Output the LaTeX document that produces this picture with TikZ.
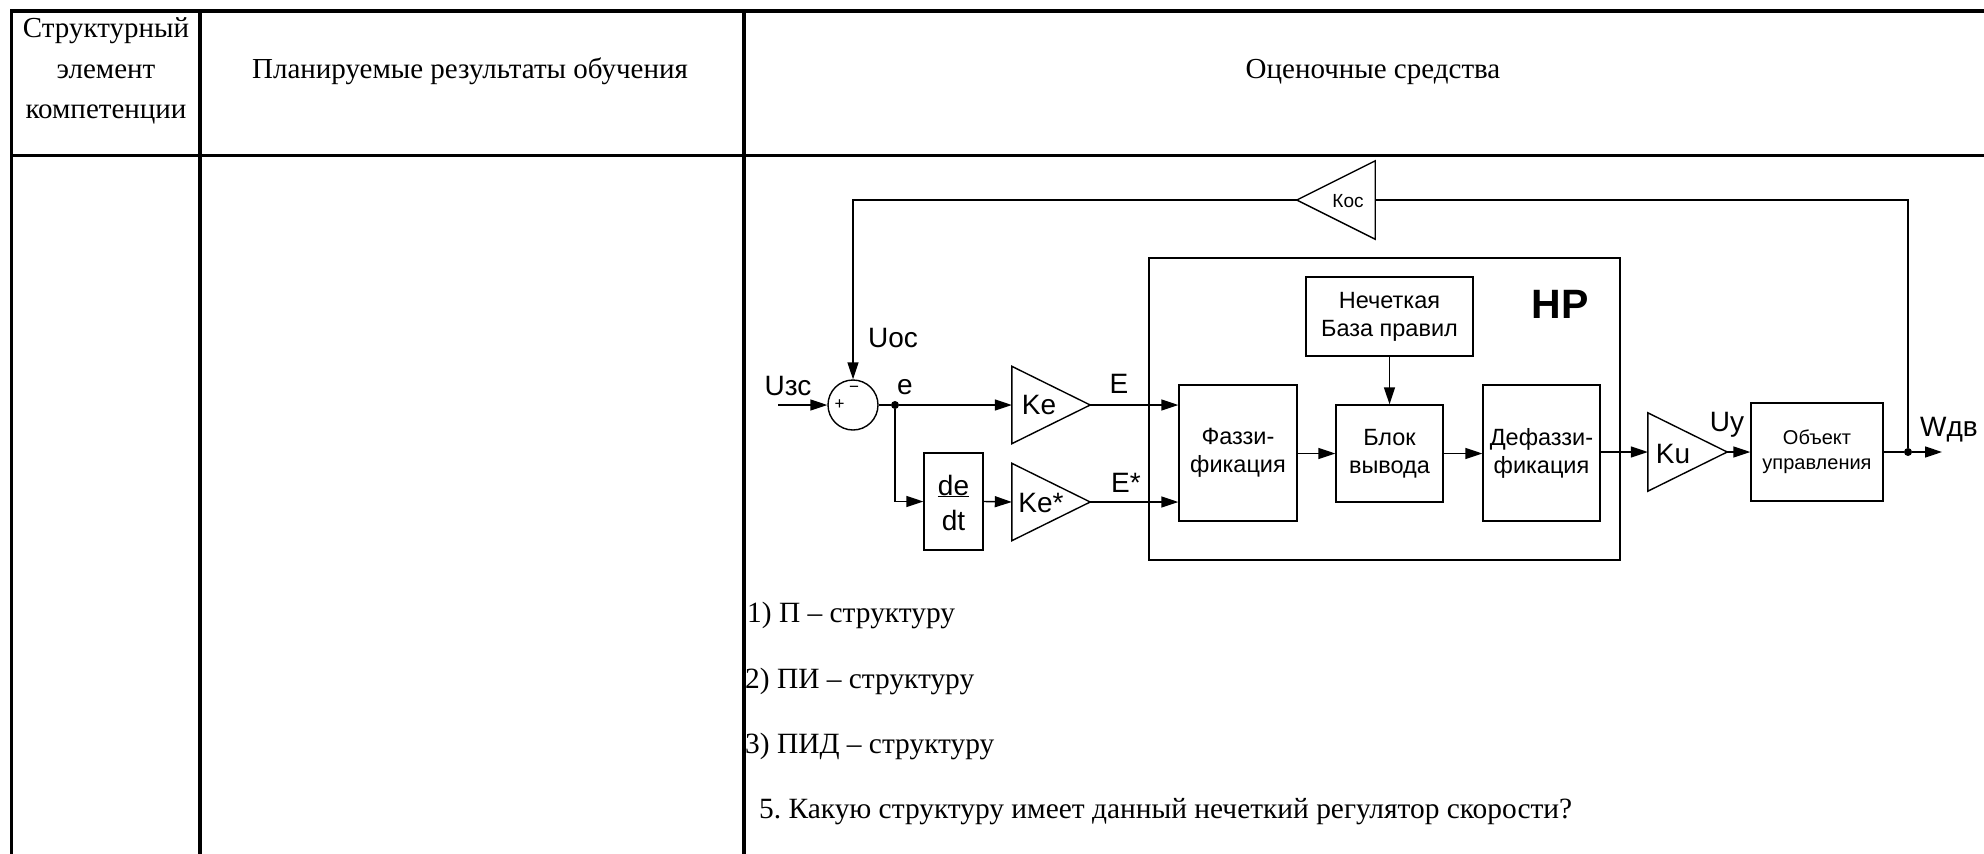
\documentclass[tikz,border=0pt]{standalone}
\usepackage{fontspec}
\setmainfont{Liberation Serif}
\newfontfamily\diag{Liberation Sans}
\usetikzlibrary{arrows.meta,calc}
\frenchspacing

\begin{document}
\begin{tikzpicture}[x=1pt,y=-1pt,
  grid/.style={line width=3.3pt,line cap=rect},
  wire/.style={line width=1.4pt},
  sig/.style={wire,-{Triangle[length=17pt,width=11pt]}},
  cell/.style={inner sep=0pt,font=\fontsize{29}{40}\selectfont},
  qtext/.style={inner sep=0pt,anchor=base west,font=\fontsize{29.4}{40}\selectfont},
  blk/.style={draw,line width=1.4pt,inner sep=0pt,align=center,
    font=\diag\fontsize{23.5}{28}\selectfont},
  gain/.style={inner sep=0pt},
  lbl/.style={inner sep=0pt,anchor=base,font=\diag\fontsize{28}{30}\selectfont},
  dot/.style={circle,fill,inner sep=0pt,minimum size=8pt}
]
\useasboundingbox (0,0) rectangle (1984,854);

% table rules
\draw[grid] (11.5,11) -- (1984,11);
\draw[grid] (11.5,155.5) -- (1984,155.5);
\draw[grid] (11.5,11) -- (11.5,860);
\draw[grid] (200,11) -- (200,860);
\draw[grid] (744,11) -- (744,860);

% table header
\node[cell,anchor=base] (h1a) at (106,37) {Структурный};
\node[cell,anchor=base] (h1b) at (106,78) {элемент};
\node[cell,anchor=base] (h1c) at (106,118) {компетенции};
\node[cell,anchor=base] (h2) at (470,78) {Планируемые результаты обучения};
\node[cell,anchor=base] (h3) at (1373,78) {Оценочные средства};

% regulator frame and blocks
\node[blk,minimum width=471pt,minimum height=302pt] (hp) at (1384.5,409) {};
\node[inner sep=0pt,anchor=base,font=\diag\bfseries\fontsize{41}{44}\selectfont] (hpl) at (1560,318) {НР};
\node[blk,minimum width=167pt,minimum height=79pt] (rules) at (1389.5,316.5) {Нечеткая\\База правил};
\node[blk,minimum width=118pt,minimum height=136pt] (fuz) at (1238,453) {Фаззи-\\фикация};
\node[blk,minimum width=107pt,minimum height=97pt] (inf) at (1389.5,453.5) {Блок\\вывода};
\node[blk,minimum width=117pt,minimum height=136pt] (defuz) at (1541.5,453) {Дефаззи-\\фикация};
\node[blk,minimum width=132pt,minimum height=98pt,font=\diag\fontsize{20}{25}\selectfont] (obj) at (1817,452) {Объект\\управления};
\node[blk,minimum width=59pt,minimum height=97pt] (der) at (953.5,501.5) {};
\node[lbl] (de) at (953.5,495) {\underline{de}};
\node[lbl] (dt) at (953.5,530) {dt};

% summing junction
\node[draw,circle,line width=1.4pt,minimum size=50pt,inner sep=0pt] (sum) at (853,405) {};
\node[inner sep=0pt,font=\diag\fontsize{17}{17}\selectfont] (plus) at (839.5,405) {+};
\node[inner sep=0pt,font=\diag\fontsize{17}{17}\selectfont] (minus) at (854,389) {−};

% amplifiers (triangles drawn on invisible frames)
\node[gain,minimum width=78pt,minimum height=77pt] (ke) at (1051,405) {};
\node[gain,minimum width=78pt,minimum height=77pt] (kes) at (1051,502) {};
\node[gain,minimum width=79pt,minimum height=78pt] (ku) at (1687.5,452) {};
\node[gain,minimum width=78pt,minimum height=78pt] (kos) at (1336,200) {};
\draw[wire] (ke.north west) -- (ke.east) -- (ke.south west) -- cycle;
\draw[wire] (kes.north west) -- (kes.east) -- (kes.south west) -- cycle;
\draw[wire] (ku.north west) -- (ku.east) -- (ku.south west) -- cycle;
\draw[wire] (kos.north east) -- (kos.west) -- (kos.south east) -- cycle;
\node[lbl] (kel) at (1039,414) {Ke};
\node[lbl] (kesl) at (1041,512) {Ke*};
\node[lbl] (kul) at (1673,463) {Ku};
\node[lbl,font=\diag\fontsize{19}{20}\selectfont] (kosl) at (1348,207) {Кос};

% signal labels
\node[lbl] (uzs) at (788,395) {Uзс};
\node[lbl] (uos) at (893,347) {Uос};
\node[lbl] (el) at (905,394) {e};
\node[lbl] (bigE) at (1119,393) {E};
\node[lbl] (bigEs) at (1126,492) {E*};
\node[lbl] (uy) at (1727,431) {Uy};
\node[lbl] (wdv) at (1949,436) {Wдв};

% junction points
\node[dot] (je) at (895,405) {};
\node[dot] (jw) at (1908,452) {};
\coordinate (in) at (778,405);
\coordinate (out) at (1942,452);

% signal flow
\draw[sig] (in) -- (sum.west);
\draw[wire] (sum.east) -- (je);
\draw[sig] (je) -- (ke.west);
\draw[sig] (ke.east) -- (fuz.west |- ke.east);
\draw[sig] (je) |- (der.west);
\draw[sig] (der.east) -- (kes.west);
\draw[sig] (kes.east) -- (fuz.west |- kes.east);
\draw[sig] (rules.south) -- (inf.north);
\draw[sig] (fuz.east |- inf.west) -- (inf.west);
\draw[sig] (inf.east) -- (defuz.west |- inf.east);
\draw[sig] (defuz.east |- ku.west) -- (ku.west);
\draw[sig] (ku.east) -- (obj.west);
\draw[wire] (obj.east) -- (jw);
\draw[sig] (jw) -- (out);
\draw[wire] (jw) |- (kos.east);
\draw[sig] (kos.west) -| (sum.north);

% question text
\node[qtext] (q1) at (747,622) {1) П – структуру};
\node[qtext] (q2) at (745,688) {2) ПИ – структуру};
\node[qtext] (q3) at (745,753) {3) ПИД – структуру};
\node[qtext] (q5) at (759,818) {5. Какую структуру имеет данный нечеткий регулятор скорости?};
\end{tikzpicture}
\end{document}
